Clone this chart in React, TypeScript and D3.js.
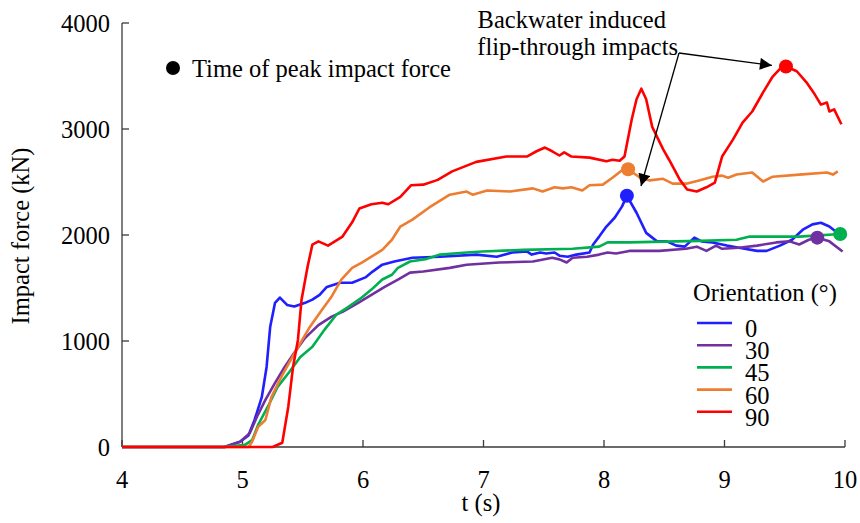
import React, { useEffect, useRef } from 'react';
import * as d3 from 'd3';

type Pt = [number, number];

const xTicks = [4, 5, 6, 7, 8, 9, 10];
const yTicks = [0, 1000, 2000, 3000, 4000];

const orient0: Pt[] = [
  [4, 0], [4.85, 0], [4.98, 50], [5.05, 110], [5.1, 255], [5.16, 470], [5.2, 755], [5.23, 1135],
  [5.27, 1360], [5.31, 1410], [5.37, 1340], [5.43, 1325], [5.52, 1360], [5.58, 1390], [5.64, 1435],
  [5.7, 1510], [5.81, 1550], [5.91, 1550], [6.02, 1600], [6.08, 1655], [6.16, 1720], [6.26, 1750],
  [6.41, 1785], [6.64, 1795], [6.94, 1815], [7.11, 1795], [7.24, 1835], [7.36, 1845], [7.4, 1815],
  [7.47, 1835], [7.52, 1825], [7.59, 1835], [7.63, 1805], [7.7, 1795], [7.77, 1815], [7.88, 1835],
  [7.91, 1910], [7.96, 1985], [8.02, 2080], [8.09, 2165], [8.15, 2270], [8.19, 2370], [8.27, 2210],
  [8.35, 2020], [8.44, 1940], [8.52, 1940], [8.6, 1900], [8.67, 1890], [8.75, 1975], [8.81, 1940],
  [8.9, 1930], [9.02, 1900], [9.12, 1880], [9.27, 1850], [9.35, 1850], [9.46, 1900], [9.56, 1955],
  [9.65, 2050], [9.73, 2100], [9.8, 2115], [9.87, 2080], [9.96, 2000]
];

const orient30: Pt[] = [
  [4, 0], [4.85, 0], [4.98, 50], [5.06, 130], [5.12, 285], [5.19, 445], [5.27, 605], [5.35, 755],
  [5.43, 890], [5.52, 1030], [5.63, 1150], [5.74, 1230], [5.83, 1275], [5.96, 1360], [6.07, 1435],
  [6.18, 1510], [6.29, 1580], [6.39, 1645], [6.5, 1655], [6.72, 1690], [6.86, 1720], [7.13, 1740],
  [7.41, 1750], [7.57, 1785], [7.63, 1770], [7.69, 1740], [7.74, 1785], [7.86, 1795], [7.96, 1815],
  [8.03, 1835], [8.1, 1825], [8.21, 1850], [8.46, 1850], [8.68, 1870], [8.77, 1890], [8.85, 1850],
  [8.93, 1900], [8.98, 1870], [9.12, 1880], [9.27, 1900], [9.43, 1930], [9.54, 1940], [9.62, 1910],
  [9.7, 1955], [9.77, 1975], [9.87, 1940], [9.98, 1845]
];

const orient45: Pt[] = [
  [4, 0], [4.85, 0], [5.02, 20], [5.08, 65], [5.13, 210], [5.21, 380], [5.29, 565], [5.39, 710],
  [5.48, 850], [5.58, 945], [5.68, 1105], [5.78, 1250], [5.87, 1315], [5.99, 1410], [6.07, 1485],
  [6.16, 1580], [6.24, 1625], [6.29, 1690], [6.39, 1750], [6.53, 1775], [6.64, 1815], [6.86, 1835],
  [6.99, 1845], [7.33, 1860], [7.74, 1870], [7.96, 1890], [8.03, 1930], [8.21, 1930], [8.4, 1935],
  [8.6, 1940], [8.8, 1945], [9.1, 1955], [9.21, 1985], [9.62, 1985], [9.96, 2010]
];

const orient60: Pt[] = [
  [4, 0], [5.05, 0], [5.08, 50], [5.13, 190], [5.19, 255], [5.24, 470], [5.31, 635], [5.39, 800],
  [5.48, 980], [5.56, 1135], [5.66, 1295], [5.74, 1420], [5.82, 1580], [5.91, 1690], [5.99, 1740],
  [6.07, 1795], [6.16, 1860], [6.24, 1955], [6.31, 2080], [6.41, 2145], [6.55, 2260], [6.72, 2380],
  [6.86, 2410], [6.91, 2380], [7.03, 2420], [7.22, 2410], [7.41, 2440], [7.49, 2410], [7.59, 2450],
  [7.66, 2440], [7.73, 2450], [7.82, 2420], [7.88, 2470], [7.99, 2475], [8.07, 2540], [8.15, 2610],
  [8.2, 2620], [8.3, 2540], [8.38, 2515], [8.49, 2530], [8.57, 2485], [8.69, 2485], [8.79, 2515],
  [8.9, 2550], [8.98, 2560], [9.03, 2540], [9.1, 2570], [9.23, 2590], [9.32, 2505], [9.4, 2550],
  [9.62, 2570], [9.85, 2590], [9.9, 2570], [9.94, 2600]
];

const orient90: Pt[] = [
  [4, 0], [5.25, 0], [5.33, 40], [5.38, 380], [5.42, 760], [5.46, 1010], [5.49, 1390], [5.54, 1700],
  [5.58, 1910], [5.63, 1940], [5.71, 1900], [5.83, 1985], [5.91, 2120], [5.97, 2250], [6.07, 2290],
  [6.16, 2305], [6.21, 2290], [6.31, 2360], [6.4, 2470], [6.5, 2475], [6.62, 2520], [6.74, 2600],
  [6.94, 2690], [7.19, 2740], [7.36, 2740], [7.44, 2790], [7.51, 2825], [7.57, 2790], [7.63, 2750],
  [7.67, 2780], [7.73, 2740], [7.88, 2730], [8.02, 2695], [8.07, 2710], [8.13, 2700], [8.17, 2740],
  [8.23, 3090], [8.27, 3280], [8.31, 3380], [8.35, 3280], [8.4, 3020], [8.49, 2810], [8.54, 2710],
  [8.63, 2520], [8.69, 2430], [8.77, 2410], [8.85, 2450], [8.92, 2495], [8.98, 2740], [9.07, 2900],
  [9.15, 3060], [9.23, 3165], [9.32, 3345], [9.4, 3495], [9.47, 3580], [9.51, 3590], [9.6, 3545],
  [9.68, 3440], [9.75, 3325], [9.8, 3230], [9.85, 3250], [9.87, 3165], [9.91, 3185], [9.97, 3045]
];

const seriesNames = ['0', '30', '45', '60', '90'];
const seriesColors = ['#1f1fff', '#7030a0', '#00b050', '#ed7d31', '#ff0000'];
const seriesData = [orient0, orient30, orient45, orient60, orient90];

// time of peak impact force for each orientation
const peakTimes = [8.19, 9.77, 9.96, 8.2, 9.51];
const peakForces = [2370, 1975, 2010, 2620, 3590];

const W = 860;
const H = 523;
const FONT = 'Liberation Serif, Times New Roman, serif';
const FS = '24.5px';

export default function App() {
  const svgRef = useRef<SVGSVGElement>(null);

  useEffect(() => {
    if (!svgRef.current) return;
    const svg = d3.select(svgRef.current);
    svg.selectAll('*').remove();

    const x = d3.scaleLinear().domain([4, 10]).range([122, 845]);
    const y = d3.scaleLinear().domain([0, 4000]).range([447, 23]);
    const axisColor = '#3a3a3a';

    const txt = (sel: d3.Selection<SVGTextElement, unknown, null, undefined>) =>
      sel.attr('font-family', FONT).attr('font-size', FS).attr('fill', '#000');

    // arrow marker
    svg.append('defs')
      .append('marker')
      .attr('id', 'arrowhead')
      .attr('viewBox', '0 0 10 10')
      .attr('refX', 10)
      .attr('refY', 5)
      .attr('markerWidth', 15)
      .attr('markerHeight', 12)
      .attr('markerUnits', 'userSpaceOnUse')
      .attr('orient', 'auto')
      .append('path')
      .attr('d', 'M0,0 L10,5 L0,10 Z')
      .attr('fill', '#000');

    // y axis
    const yAxis = svg.append('g');
    yAxis.append('line')
      .attr('x1', x(4)).attr('x2', x(4))
      .attr('y1', y(4000)).attr('y2', y(0))
      .attr('stroke', axisColor).attr('stroke-width', 1.3);
    yTicks.forEach(v => {
      yAxis.append('line')
        .attr('x1', x(4)).attr('x2', x(4) + 7)
        .attr('y1', y(v)).attr('y2', y(v))
        .attr('stroke', axisColor).attr('stroke-width', 1.3);
      yAxis.append('text')
        .attr('x', 110)
        .attr('y', y(v))
        .attr('dy', '0.35em')
        .attr('text-anchor', 'end')
        .call(txt)
        .text(v);
    });

    // x axis
    const xAxis = svg.append('g');
    xAxis.append('line')
      .attr('x1', x(4)).attr('x2', x(10))
      .attr('y1', y(0)).attr('y2', y(0))
      .attr('stroke', axisColor).attr('stroke-width', 1.3);
    xTicks.forEach(v => {
      xAxis.append('line')
        .attr('x1', x(v)).attr('x2', x(v))
        .attr('y1', y(0)).attr('y2', y(0) - 7)
        .attr('stroke', axisColor).attr('stroke-width', 1.3);
      xAxis.append('text')
        .attr('x', x(v))
        .attr('y', 488)
        .attr('text-anchor', 'middle')
        .call(txt)
        .text(v);
    });

    // axis titles
    svg.append('text')
      .attr('x', 481)
      .attr('y', 511)
      .attr('text-anchor', 'middle')
      .call(txt)
      .text('t (s)');

    svg.append('text')
      .attr('transform', 'translate(29, 236) rotate(-90)')
      .attr('text-anchor', 'middle')
      .call(txt)
      .text('Impact force (kN)');

    // series lines
    const line = d3.line<Pt>()
      .x(d => x(d[0]))
      .y(d => y(d[1]));

    seriesData.forEach((data, i) => {
      svg.append('path')
        .datum(data)
        .attr('d', line)
        .attr('fill', 'none')
        .attr('stroke', seriesColors[i])
        .attr('stroke-width', 2.6)
        .attr('stroke-linejoin', 'round');
    });

    // peak markers
    peakTimes.forEach((t, i) => {
      svg.append('circle')
        .attr('cx', x(t))
        .attr('cy', y(peakForces[i]))
        .attr('r', 7)
        .attr('fill', seriesColors[i]);
    });

    // peak legend
    svg.append('circle')
      .attr('cx', 173)
      .attr('cy', 68)
      .attr('r', 7)
      .attr('fill', '#000');
    svg.append('text')
      .attr('x', 192)
      .attr('y', 77)
      .call(txt)
      .text('Time of peak impact force');

    // annotation
    svg.append('text')
      .attr('x', 666).attr('y', 28)
      .attr('text-anchor', 'end')
      .call(txt)
      .text('Backwater induced');
    svg.append('text')
      .attr('x', 678).attr('y', 55)
      .attr('text-anchor', 'end')
      .call(txt)
      .text('flip-through impacts');

    const ax0 = 679;
    const ay0 = 53;
    svg.append('line')
      .attr('x1', ax0).attr('y1', ay0)
      .attr('x2', x(9.51) - 14).attr('y2', y(3590) - 1)
      .attr('stroke', '#000').attr('stroke-width', 1.3)
      .attr('marker-end', 'url(#arrowhead)');
    svg.append('line')
      .attr('x1', ax0).attr('y1', ay0)
      .attr('x2', 641).attr('y2', 186)
      .attr('stroke', '#000').attr('stroke-width', 1.3)
      .attr('marker-end', 'url(#arrowhead)');

    // orientation legend
    svg.append('text')
      .attr('x', 693)
      .attr('y', 301)
      .call(txt)
      .text('Orientation (°)');

    seriesNames.forEach((name, i) => {
      const ly = 323 + i * 22.2;
      svg.append('line')
        .attr('x1', 697).attr('x2', 732)
        .attr('y1', ly).attr('y2', ly)
        .attr('stroke', seriesColors[i])
        .attr('stroke-width', 2.6);
      svg.append('text')
        .attr('x', 745)
        .attr('y', ly + 14)
        .call(txt)
        .text(name);
    });
  }, []);

  return (
    <svg
      ref={svgRef}
      width={W}
      height={H}
      style={{ position: 'absolute', left: 0, top: 0, background: '#fff' }}
    />
  );
}
